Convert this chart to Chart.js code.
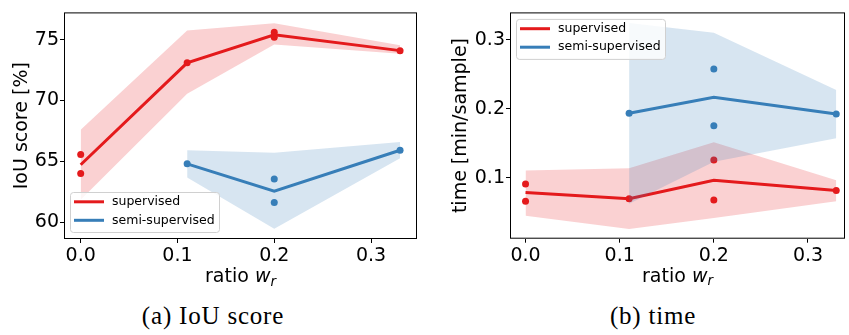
<!DOCTYPE html>
<html lang="en">

<head>
	<meta charset="UTF-8">
	<title>IoU score and time vs ratio</title>
	<script src="https://cdn.jsdelivr.net/npm/chart.js"></script>
	<style>
		body { margin: 0; background: #fff; width: 849px; height: 335px; overflow: hidden; position: relative; }
		canvas { position: absolute; top: 0; }
		.caption { position: absolute; top: 303px; font: 25px "Liberation Serif", serif; line-height: 25px; letter-spacing: 0.8px; color: #000; white-space: nowrap; transform: translateX(-50%); }
	</style>
</head>

<body>
	<canvas id="iouChart" width="425" height="300" style="left:0"></canvas>
	<canvas id="timeChart" width="424" height="300" style="left:425px"></canvas>
	<div class="caption" style="left:213px">(a) IoU score</div>
	<div class="caption" style="left:653px">(b) time</div>

	<script>
		// ratio w_r values
		const ratioSup = [0, 0.11, 0.2, 0.33];
		const ratioSemi = [0.11, 0.2, 0.33];
		const xTicks = [0, 0.1, 0.2, 0.3];

		const seriesNames = ['supervised', 'semi-supervised'];
		const seriesColors = ['#e41a1c', '#377eb8'];
		const bandColors = ['rgba(228,26,28,0.2)', 'rgba(55,126,184,0.2)'];

		// IoU score [%]
		const iouSupMean = [64.73, 73.1, 75.4, 74.1];
		const iouSupLow = [61.85, 70.55, 74.6, 73.85];
		const iouSupHigh = [67.6, 75.75, 76.35, 74.55];
		const iouSupRunX = [0, 0, 0.11, 0.2, 0.2, 0.33];
		const iouSupRunY = [65.58, 64.0, 73.1, 75.6, 75.2, 74.1];

		const iouSemiMean = [64.8, 62.55, 65.92];
		const iouSemiLow = [63.68, 59.47, 65.26];
		const iouSemiHigh = [65.92, 65.71, 66.6];
		const iouSemiRunX = [0.11, 0.2, 0.2, 0.33];
		const iouSemiRunY = [64.8, 63.55, 61.63, 65.92];

		const iouTicks = [60, 65, 70, 75];

		// time [min/sample]
		const timeSupMean = [0.0785, 0.0696, 0.0963, 0.0813];
		const timeSupLow = [0.0448, 0.0256, 0.0416, 0.0659];
		const timeSupHigh = [0.1103, 0.1136, 0.1515, 0.0963];
		const timeSupRunX = [0, 0, 0.11, 0.2, 0.2, 0.33];
		const timeSupRunY = [0.0907, 0.0659, 0.0696, 0.1258, 0.0677, 0.0813];

		const timeSemiMean = [0.1935, 0.2166, 0.1923];
		const timeSemiLow = [0.0621, 0.123, 0.1571];
		const timeSemiHigh = [0.3243, 0.3103, 0.2271];
		const timeSemiRunX = [0.11, 0.2, 0.2, 0.33];
		const timeSemiRunY = [0.1935, 0.2578, 0.1754, 0.1923];

		const timeTicks = [0.1, 0.2, 0.3];

		const FONT = 'DejaVu Sans';

		function pts(xs, ys) {
			return xs.map((x, i) => ({ x: x, y: ys[i] }));
		}

		function buildDatasets(sup, semi) {
			const sets = [];
			[sup, semi].forEach((s, k) => {
				const base = sets.length;
				const ord = 6 - k * 3;
				sets.push({ data: pts(s.x, s.high), borderWidth: 0, pointRadius: 0, fill: base + 1, backgroundColor: bandColors[k], order: ord });
				sets.push({ data: pts(s.x, s.low), borderWidth: 0, pointRadius: 0, fill: false, order: ord });
				sets.push({ data: pts(s.x, s.mean), borderColor: seriesColors[k], borderWidth: 3, pointRadius: 0, fill: false, tension: 0, order: ord - 1 });
				sets.push({ data: pts(s.runX, s.runY), showLine: false, pointRadius: 3.5, pointBorderWidth: 0, pointBackgroundColor: seriesColors[k], order: ord - 2 });
			});
			return sets;
		}

		// box round the plot area
		const framePlugin = {
			id: 'frame',
			afterDatasetsDraw(chart) {
				const { ctx, chartArea: a } = chart;
				ctx.save();
				ctx.strokeStyle = '#000';
				ctx.lineWidth = 1;
				ctx.strokeRect(a.left + 0.5, a.top + 0.5, a.right - a.left - 1, a.bottom - a.top - 1);
				ctx.restore();
			}
		};

		// x title: ratio w_r
		const xTitlePlugin = {
			id: 'xTitle',
			afterDraw(chart) {
				const { ctx, chartArea: a } = chart;
				const y = a.bottom + 43;
				ctx.save();
				ctx.fillStyle = '#000';
				ctx.textBaseline = 'alphabetic';
				ctx.textAlign = 'left';
				const f1 = '19px "' + FONT + '"', f2 = 'oblique 19px "' + FONT + '"', f3 = 'oblique 13.5px "' + FONT + '"';
				ctx.font = f1; const w1 = ctx.measureText('ratio ').width;
				ctx.font = f2; const w2 = ctx.measureText('w').width;
				ctx.font = f3; const w3 = ctx.measureText('r').width;
				let x = (a.left + a.right) / 2 - (w1 + w2 + w3) / 2;
				ctx.font = f1; ctx.fillText('ratio ', x, y); x += w1;
				ctx.font = f2; ctx.fillText('w', x, y); x += w2;
				ctx.font = f3; ctx.fillText('r', x, y + 3.5);
				ctx.restore();
			}
		};

		// framed legend inside the plot
		const boxLegend = {
			id: 'boxLegend',
			afterDatasetsDraw(chart, args, opts) {
				const { ctx, chartArea: a } = chart;
				const w = 149, h = 40;
				const x = a.left + 6;
				const y = opts.corner === 'top' ? a.top + 6.5 : a.bottom - 7 - h;
				ctx.save();
				ctx.beginPath();
				ctx.roundRect(x + 0.5, y + 0.5, w, h, 3);
				ctx.fillStyle = 'rgba(255,255,255,0.8)';
				ctx.fill();
				ctx.strokeStyle = '#d0d0d0';
				ctx.lineWidth = 1;
				ctx.stroke();
				ctx.font = '12.5px "' + FONT + '"';
				ctx.textBaseline = 'middle';
				seriesNames.forEach((name, i) => {
					const ly = y + 9.8 + i * 18.5;
					ctx.strokeStyle = seriesColors[i];
					ctx.lineWidth = 3;
					ctx.beginPath();
					ctx.moveTo(x + 4, ly);
					ctx.lineTo(x + 34, ly);
					ctx.stroke();
					ctx.fillStyle = '#000';
					ctx.fillText(name, x + 42, ly);
				});
				ctx.restore();
			}
		};

		function makeChart(id, cfg) {
			const tickFont = { family: FONT, size: 19 };
			return new Chart(document.getElementById(id), {
				type: 'line',
				data: { datasets: cfg.datasets },
				plugins: [framePlugin, xTitlePlugin, boxLegend],
				options: {
					responsive: false,
					animation: false,
					events: [],
					layout: { padding: { top: 5, right: cfg.padRight, left: 0, bottom: 0 } },
					plugins: {
						legend: { display: false },
						tooltip: { enabled: false },
						boxLegend: { corner: cfg.corner }
					},
					scales: {
						x: {
							type: 'linear',
							min: cfg.xMin,
							max: cfg.xMax,
							afterBuildTicks: s => { s.ticks = xTicks.map(v => ({ value: v })); },
							afterFit: s => { s.height = cfg.xHeight; },
							ticks: { callback: v => v.toFixed(1), font: tickFont, color: '#000', padding: 2, maxRotation: 0, autoSkip: false },
							grid: { drawOnChartArea: false, drawTicks: true, tickLength: 4, tickColor: '#000', color: '#000' },
							border: { display: false }
						},
						y: {
							type: 'linear',
							min: cfg.yMin,
							max: cfg.yMax,
							afterBuildTicks: s => { s.ticks = cfg.yTicks.map(v => ({ value: v })); },
							afterFit: s => { s.width = cfg.yWidth; },
							ticks: { callback: cfg.yFormat, font: tickFont, color: '#000', padding: 1, autoSkip: false },
							grid: { drawOnChartArea: false, drawTicks: true, tickLength: 4, tickColor: '#000', color: '#000' },
							border: { display: false },
							title: { display: true, text: cfg.yTitle, font: tickFont, color: '#000', padding: { top: cfg.yTitlePad, bottom: 0 } }
						}
					}
				}
			});
		}

		makeChart('iouChart', {
			datasets: buildDatasets(
				{ x: ratioSup, mean: iouSupMean, low: iouSupLow, high: iouSupHigh, runX: iouSupRunX, runY: iouSupRunY },
				{ x: ratioSemi, mean: iouSemiMean, low: iouSemiLow, high: iouSemiHigh, runX: iouSemiRunX, runY: iouSemiRunY }
			),
			xMin: -0.01725, xMax: 0.3475,
			yMin: 58.63, yMax: 77.24,
			yTicks: iouTicks,
			yFormat: v => String(v),
			yTitle: 'IoU score [%]',
			yTitlePad: 11,
			yWidth: 64, xHeight: 61, padRight: 8,
			corner: 'bottom'
		});

		makeChart('timeChart', {
			datasets: buildDatasets(
				{ x: ratioSup, mean: timeSupMean, low: timeSupLow, high: timeSupHigh, runX: timeSupRunX, runY: timeSupRunY },
				{ x: ratioSemi, mean: timeSemiMean, low: timeSemiLow, high: timeSemiHigh, runX: timeSemiRunX, runY: timeSemiRunY }
			),
			xMin: -0.0165, xMax: 0.3393,
			yMin: 0.01152, yMax: 0.3398,
			yTicks: timeTicks,
			yFormat: v => v.toFixed(1),
			yTitle: 'time [min/sample]',
			yTitlePad: 24.5,
			yWidth: 85, xHeight: 61.3, padRight: 1,
			corner: 'top'
		});
	</script>
</body>

</html>
